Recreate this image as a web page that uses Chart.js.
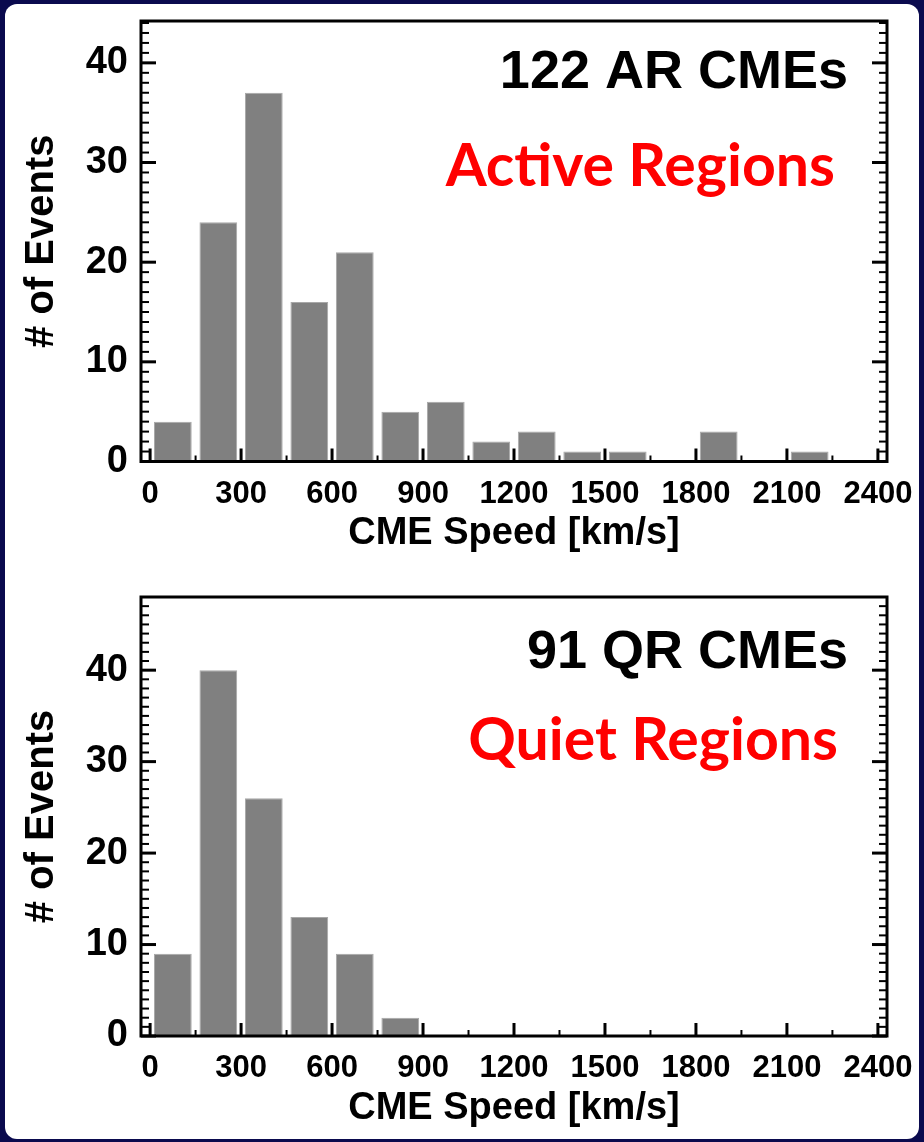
<!DOCTYPE html>
<html lang="en">
<head>
<meta charset="UTF-8" />
<title>CME speed histograms</title>
<script src="https://cdn.jsdelivr.net/npm/chart.js"></script>
<style>
  body { margin: 0; width: 924px; height: 1142px; overflow: hidden; background: #0a0a4e; }
  #panel { position: absolute; left: 5px; top: 4px; width: 914px; height: 1135px; background: #fff; border-radius: 12px; }
  #top { position: absolute; left: 0; top: 0; }
  #bottom { position: absolute; left: 0; top: 575px; }
</style>
<script>
  // bin centres of the 150 km/s speed bins
  var binCenters = [75, 225, 375, 525, 675, 825, 975, 1125, 1275, 1425, 1575, 1725, 1875, 2025, 2175, 2325];
  var arCounts = [4, 24, 37, 16, 21, 5, 6, 2, 3, 1, 1, 0, 3, 0, 1, 0];
  var qrCounts = [9, 40, 26, 13, 9, 2, 0, 0, 0, 0, 0, 0, 0, 0, 0, 0];
  var speedTicks = [0, 300, 600, 900, 1200, 1500, 1800, 2100, 2400];
  var eventTicks = [0, 10, 20, 30, 40];
  var arLabels = ["122 AR CMEs", "Active Regions"];
  var qrLabels = ["91 QR CMEs", "Quiet Regions"];
</script>
</head>
<body>
<div id="panel"></div>
<canvas id="top" width="924" height="575"></canvas>
<canvas id="bottom" width="924" height="567"></canvas>
<script>
  var helv = "'Liberation Sans', Arial, sans-serif";

  // IDL style frame: inward ticks on left, right and bottom
  var frameTicks = {
    id: "frameTicks",
    afterDatasetsDraw: function (chart) {
      var ctx = chart.ctx, a = chart.chartArea, xs = chart.scales.x, ys = chart.scales.y;
      ctx.save();
      ctx.strokeStyle = "#000";
      function seg(x1, y1, x2, y2, w) {
        ctx.lineWidth = w;
        ctx.beginPath(); ctx.moveTo(x1, y1); ctx.lineTo(x2, y2); ctx.stroke();
      }
      for (var v = 0; v <= ys.max; v++) {
        var py = ys.getPixelForValue(v);
        var major = v % 10 === 0;
        var len = major ? 15 : 8;
        seg(a.left, py, a.left + len, py, major ? 3 : 2);
        seg(a.right, py, a.right - len, py, major ? 3 : 2);
      }
      for (var s = 0; s <= speedTicks[speedTicks.length - 1]; s += 150) {
        var px = xs.getPixelForValue(s);
        var maj = s % 300 === 0;
        seg(px, a.bottom, px, a.bottom - (maj ? 13 : 6), maj ? 3 : 2);
      }
      ctx.lineWidth = 3;
      ctx.strokeRect(a.left, a.top, a.right - a.left, a.bottom - a.top);
      ctx.restore();
    }
  };

  var notes = {
    id: "notes",
    afterDraw: function (chart, args, opts) {
      var ctx = chart.ctx;
      ctx.save();
      ctx.textAlign = "right";
      ctx.textBaseline = "alphabetic";
      ctx.fillStyle = "#000";
      ctx.font = "bold 54px " + helv;
      ctx.fillText(opts.lines[0], 848, opts.y1);
      ctx.fillStyle = "#ff0000";
      ctx.font = "bold 59px Lato, 'Open Sans', sans-serif";
      ctx.fillText(opts.lines[1], opts.x2, opts.y2);
      ctx.restore();
    }
  };

  function makeHist(id, counts, yMax, padTop, xHeight, titlePad, lines, x2, y1, y2) {
    var points = counts.map(function (c, i) { return { x: binCenters[i], y: c }; });
    return new Chart(document.getElementById(id), {
      type: "bar",
      data: {
        datasets: [{
          data: points,
          backgroundColor: "#808080",
          borderColor: "#a8a8a8",
          borderWidth: 1,
          barPercentage: 0.83,
          categoryPercentage: 1
        }]
      },
      plugins: [frameTicks, notes],
      options: {
        responsive: false,
        animation: false,
        layout: { padding: { left: 0, right: 37, top: padTop, bottom: 0 } },
        plugins: {
          legend: { display: false },
          tooltip: { enabled: false },
          notes: { lines: lines, x2: x2, y1: y1, y2: y2 }
        },
        scales: {
          x: {
            type: "linear",
            min: -30,
            max: 2430,
            offset: false,
            grid: { display: false, drawTicks: false, offset: false },
            border: { display: false },
            afterBuildTicks: function (scale) {
              scale.ticks = speedTicks.map(function (v) { return { value: v }; });
            },
            afterFit: function (scale) {
              scale.height = xHeight;
              scale.paddingLeft = 0;
              scale.paddingRight = 0;
            },
            ticks: {
              color: "#000",
              padding: 14,
              maxRotation: 0,
              autoSkip: false,
              callback: function (v) { return String(v); },
              font: { family: helv, size: 31, weight: "bold" }
            },
            title: {
              display: true,
              text: "CME Speed [km/s]",
              color: "#000",
              padding: { top: 0, bottom: titlePad },
              font: { family: helv, size: 38, weight: "bold" }
            }
          },
          y: {
            min: 0,
            max: yMax,
            grid: { display: false, drawTicks: false },
            border: { display: false },
            afterBuildTicks: function (scale) {
              scale.ticks = eventTicks.map(function (v) { return { value: v }; });
            },
            afterFit: function (scale) {
              scale.width = 141;
              scale.paddingTop = 0;
              scale.paddingBottom = 0;
            },
            ticks: {
              color: "#000",
              padding: 13,
              font: { family: helv, size: 38, weight: "bold" }
            },
            title: {
              display: true,
              text: "# of Events",
              color: "#000",
              padding: { top: 18, bottom: 0 },
              font: { family: helv, size: 40, weight: "bold" }
            }
          }
        }
      }
    });
  }

  makeHist("top", arCounts, 44.2, 21, 113.5, 19, arLabels, 835, 88, 186);
  makeHist("bottom", qrCounts, 48, 22, 106, 11, qrLabels, 838, 93, 185);
</script>
</body>
</html>
